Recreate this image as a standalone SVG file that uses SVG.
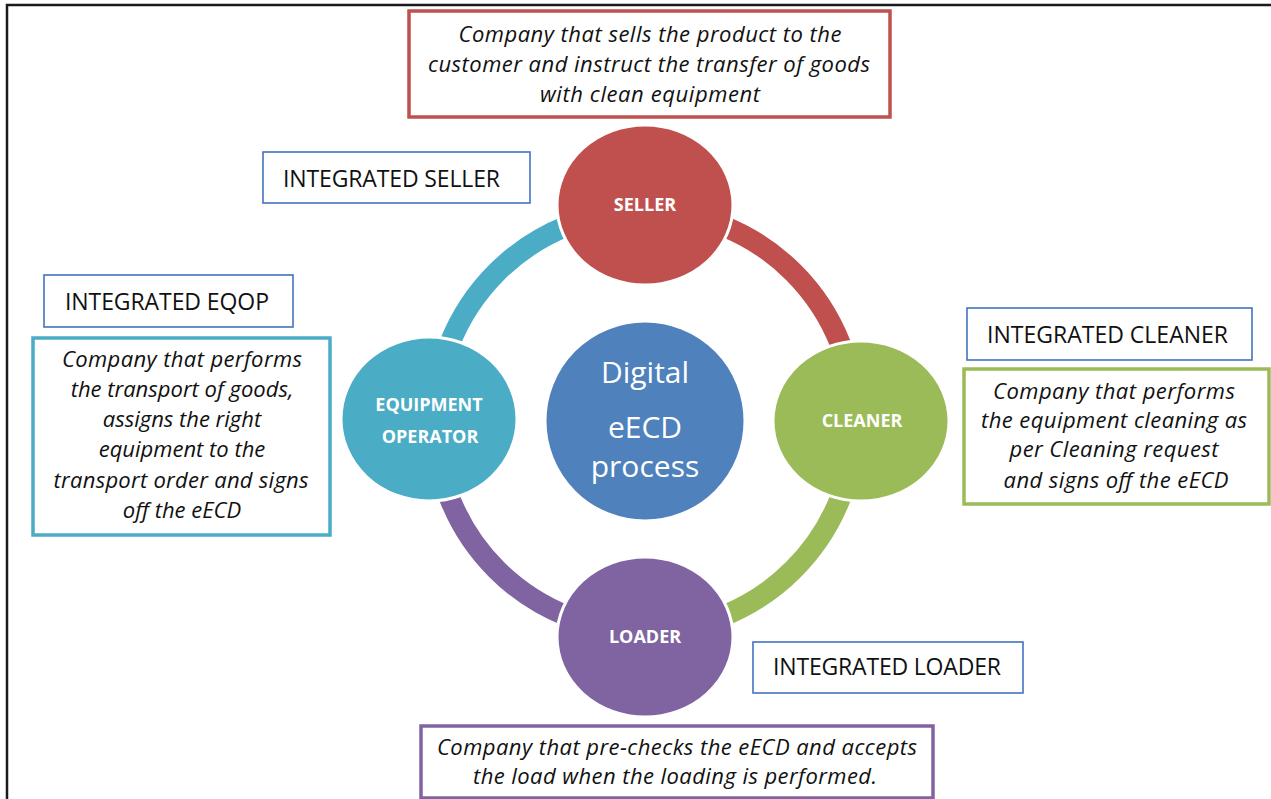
<svg xmlns="http://www.w3.org/2000/svg" width="1271" height="799" viewBox="0 0 1271 799">
<style>
.frame{fill:none;stroke:#1a1a1a;stroke-width:2.5}
.lbl{fill:#fff;stroke:#4472C4;stroke-width:1.6}
.lbltxt{font-family:"Open Sans","Liberation Sans",sans-serif;font-size:23px;fill:#111}
.desc{font-family:"Open Sans","Liberation Sans",sans-serif;font-size:22px;font-style:italic;fill:#111;text-anchor:middle}
.box{fill:#fff;stroke-width:3.5}
.node{stroke:#fff;stroke-width:3}
.ntxt{font-family:"Open Sans","Liberation Sans",sans-serif;font-size:18px;font-weight:bold;fill:#fff;text-anchor:middle}
.ctxt{font-family:"Open Sans","Liberation Sans",sans-serif;font-size:30px;fill:#fff;text-anchor:middle}
.arc{fill:none;stroke-width:21}
</style>
<path class="frame" d="M7,799 V5 H1271"/>
<g id="connectors">
<path class="arc" stroke="#4BACC6" d="M645,211 A210,210 0 0 0 435,421"/>
<path class="arc" stroke="#C0504D" d="M645,211 A210,210 0 0 1 855,421"/>
<path class="arc" stroke="#9BBB59" d="M855,421 A210,210 0 0 1 645,631"/>
<path class="arc" stroke="#8064A2" d="M645,631 A210,210 0 0 1 435,421"/>
</g>
<g id="center">
<circle cx="645" cy="421" r="100" fill="#4F81BD" class="node"/>
<text class="ctxt" x="645" y="383">Digital</text>
<text class="ctxt" x="645" y="438">eECD</text>
<text class="ctxt" x="645" y="477">process</text>
</g>
<g id="seller">
<ellipse cx="645" cy="205" rx="88" ry="80" fill="#C0504D" class="node"/>
<text class="ntxt" x="645" y="211">SELLER</text>
</g>
<g id="eqop">
<ellipse cx="429" cy="419" rx="88" ry="82" fill="#4BACC6" class="node"/>
<text class="ntxt" x="429" y="411">EQUIPMENT</text>
<text class="ntxt" x="430" y="443">OPERATOR</text>
</g>
<g id="cleaner">
<ellipse cx="861" cy="421" rx="88" ry="80" fill="#9BBB59" class="node"/>
<text class="ntxt" x="862" y="427">CLEANER</text>
</g>
<g id="loader">
<ellipse cx="645" cy="637" rx="88" ry="80" fill="#8064A2" class="node"/>
<text class="ntxt" x="645" y="643">LOADER</text>
</g>
<g id="seller-desc">
<rect class="box" stroke="#C0504D" x="409" y="11" width="481" height="106"/>
<text class="desc" x="650" y="42" textLength="383">Company that sells the product to the</text>
<text class="desc" x="649" y="72" textLength="442">customer and instruct the transfer of goods</text>
<text class="desc" x="650" y="102" textLength="220">with clean equipment</text>
</g>
<g id="seller-label">
<rect class="lbl" x="263" y="152" width="267" height="51"/>
<text class="lbltxt" x="283" y="187" textLength="217">INTEGRATED SELLER</text>
</g>
<g id="eqop-label">
<rect class="lbl" x="44" y="275" width="249" height="52"/>
<text class="lbltxt" x="65" y="310" textLength="204">INTEGRATED EQOP</text>
</g>
<g id="eqop-desc">
<rect class="box" stroke="#4BACC6" x="33" y="338" width="297" height="197"/>
<text class="desc" x="182" y="367" textLength="240">Company that performs</text>
<text class="desc" x="182" y="397">the transport of goods,</text>
<text class="desc" x="182" y="427">assigns the right</text>
<text class="desc" x="182" y="457">equipment to the</text>
<text class="desc" x="181" y="488" textLength="255">transport order and signs</text>
<text class="desc" x="182" y="518">off the eECD</text>
</g>
<g id="cleaner-label">
<rect class="lbl" x="967" y="308" width="285" height="52"/>
<text class="lbltxt" x="987" y="343" textLength="241">INTEGRATED CLEANER</text>
</g>
<g id="cleaner-desc">
<rect class="box" stroke="#9BBB59" x="964" y="369" width="305" height="135"/>
<text class="desc" x="1114" y="399" textLength="242">Company that performs</text>
<text class="desc" x="1114" y="428" textLength="266">the equipment cleaning as</text>
<text class="desc" x="1114" y="457" textLength="209">per Cleaning request</text>
<text class="desc" x="1116" y="488" textLength="225">and signs off the eECD</text>
</g>
<g id="loader-label">
<rect class="lbl" x="753" y="642" width="270" height="51"/>
<text class="lbltxt" x="773" y="675" textLength="228">INTEGRATED LOADER</text>
</g>
<g id="loader-desc">
<rect class="box" stroke="#8064A2" x="421" y="726" width="512" height="72"/>
<text class="desc" x="677" y="755" textLength="480">Company that pre-checks the eECD and accepts</text>
<text class="desc" x="675" y="784" textLength="404">the load when the loading is performed.</text>
</g>
</svg>
